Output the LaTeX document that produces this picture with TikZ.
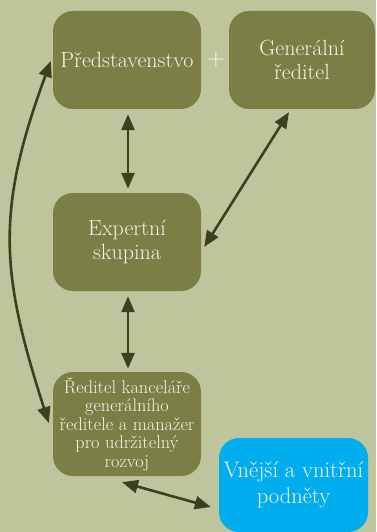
\documentclass[tikz,border=0pt]{standalone}
\usepackage{fontspec}
\usetikzlibrary{arrows.meta,calc}
\definecolor{bgc}{HTML}{BEC49B}
\definecolor{boxc}{HTML}{7B7F45}
\definecolor{bluc}{HTML}{00AEEF}
\definecolor{arrc}{HTML}{3D401D}
\definecolor{txtc}{HTML}{F6F3E8}
\begin{document}
\begin{tikzpicture}[x=1pt,y=-1pt,
  boxnode/.style={fill=boxc, rounded corners=20pt, minimum width=148pt, minimum height=98pt,
    inner sep=0pt, align=center, text=txtc, font=\fontsize{22}{24}\selectfont},
  link/.style={draw=arrc, line width=2.6pt,
    {Triangle[length=16pt,width=13pt]}-{Triangle[length=16pt,width=13pt]}}]
\fill[bgc] (0,0) rectangle (376,532);
\useasboundingbox (0,0) rectangle (376,532);
\node[boxnode] (pred) at (127,60) {Představenstvo};
\node[boxnode, minimum width=146pt] (gen) at (302,60) {Generální\\ředitel};
\node[text=white, font=\fontsize{24}{24}\selectfont, inner sep=0pt] (plus) at (216,60) {+};
\node[boxnode] (exp) at (127,242) {Expertní\\skupina};
\node[boxnode, minimum height=104pt, font=\fontsize{18.3}{18.5}\selectfont] (red) at (127,424)
  {Ředitel kanceláře\\generálního\\ředitele a manažer\\pro udržitelný\\rozvoj};
\node[boxnode, fill=bluc, minimum width=149pt, minimum height=94pt,
  font=\fontsize{22.5}{25.5}\selectfont] (vne) at (293.5,485)
  {Vnější a vnitřní\\podněty};
\draw[link] ($(pred.south)+(1,5)$) -- ($(exp.north)+(1,-4)$);
\draw[link] ($(exp.east)+(3,5)$) -- ($(gen.south)+(-13,3)$);
\draw[link] ($(exp.south)+(1,5)$) -- ($(red.north)+(1,-3)$);
\draw[link] ($(pred.west)+(-2,1)$) .. controls (-4.5,211) and (0.5,273) .. ($(red.west)+(-4,-1)$);
\draw[link] ($(red.south)+(-5,6)$) -- ($(vne.west)+(-8,22)$);
\end{tikzpicture}
\end{document}
